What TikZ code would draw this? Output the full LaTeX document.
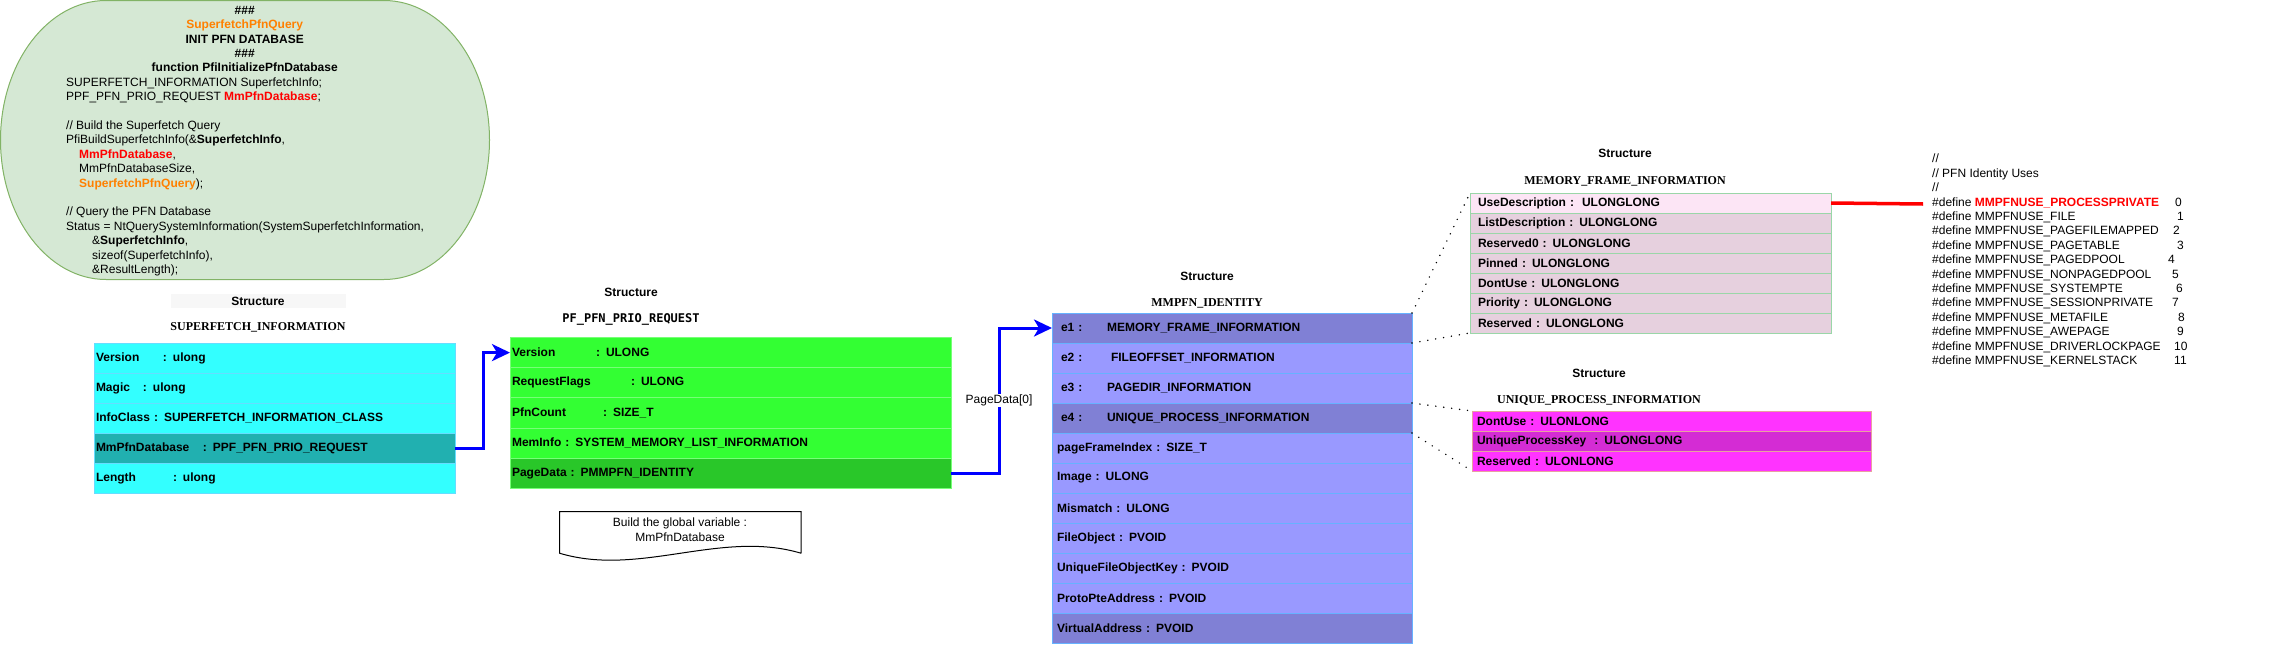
\documentclass[tikz,border=0pt]{standalone}
\usepackage{fontspec}
\setmainfont{Liberation Sans}
\newfontfamily\structfont{Liberation Serif}
\newfontfamily\monofont{DejaVu Sans Mono}
\usetikzlibrary{positioning}
\usetikzlibrary{arrows.meta}

\definecolor{qfill}{HTML}{D5E8D4}
\definecolor{qline}{HTML}{82B366}
\definecolor{qorange}{HTML}{FF8000}
\definecolor{sfifill}{HTML}{33FFFF}
\definecolor{sfidark}{HTML}{21B0B0}
\definecolor{sfiline}{HTML}{66DDFF}
\definecolor{pfrfill}{HTML}{33FF33}
\definecolor{pfrdark}{HTML}{29C729}
\definecolor{pfrline}{HTML}{77FF77}
\definecolor{mmifill}{HTML}{9999FF}
\definecolor{mmidark}{HTML}{8080D5}
\definecolor{mmiline}{HTML}{66B2FF}
\definecolor{mfifirst}{HTML}{FCE5F5}
\definecolor{mfifill}{HTML}{E6D0DE}
\definecolor{mfiline}{HTML}{9AD6A8}
\definecolor{upifill}{HTML}{FF33FF}
\definecolor{upidark}{HTML}{D42CD4}
\definecolor{upiline}{HTML}{E8A0A0}

\newcommand{\colname}[2]{\makebox[#1][l]{#2}}
\newcommand{\midline}[1]{\makebox[357pt]{#1}}

\begin{document}
\begin{tikzpicture}
	[	x=1pt, y=-1pt,
		title/.style={inner sep=0pt,font=\bfseries\fontsize{12}{14.4}\selectfont},
		sname/.style={inner sep=0pt,font=\structfont\bfseries\fontsize{12}{14.4}\selectfont},
		codetext/.style={inner sep=0pt,align=left,font=\fontsize{12}{14.4}\selectfont},
		field/.style={rectangle,anchor=north,inner ysep=0pt,outer sep=0pt,align=left,line width=1pt,font=\bfseries\fontsize{12}{14.4}\selectfont},
		sfirow/.style={field,draw=sfiline,fill=sfifill,minimum height=30pt,text width=357pt,inner xsep=2pt},
		pfrrow/.style={field,draw=pfrline,fill=pfrfill,minimum height=30.2pt,text width=437pt,inner xsep=2pt},
		mmirow/.style={field,draw=mmiline,fill=mmifill,minimum height=30pt,text width=350pt,inner xsep=5pt},
		mfirow/.style={field,draw=mfiline,fill=mfifill,minimum height=20pt,text width=345pt,inner xsep=8pt},
		upirow/.style={field,draw=upiline,fill=upifill,minimum height=20pt,text width=389pt,inner xsep=5pt},
		link/.style={-{Stealth[length=18pt,width=17pt,inset=5pt]},line width=3pt,draw=blue},
		dotline/.style={line width=1.6pt,line cap=round,dash pattern=on 0pt off 8pt},
		redline/.style={line width=3.5pt,draw=red}	]
	\useasboundingbox (0,0) rectangle (2290,645);

	% query shape
	\draw[draw=qline,fill=qfill,line width=1pt] (106,0.5) -- (384,0.5)
		arc[start angle=90,end angle=-90,x radius=105.5pt,y radius=139.5pt] -- (106,279.5)
		arc[start angle=270,end angle=90,x radius=105.5pt,y radius=139.5pt] -- cycle;
	\node[codetext,anchor=north west] (qtext) at (66,6) {%
		\midline{\textbf{\#\#\#}}\\
		\midline{\textcolor{qorange}{\textbf{SuperfetchPfnQuery}}}\\
		\midline{\textbf{INIT PFN DATABASE}}\\
		\midline{\textbf{\#\#\#}}\\
		\midline{\textbf{function PfiInitializePfnDatabase}}\\
		SUPERFETCH\_INFORMATION SuperfetchInfo;\\
		PPF\_PFN\_PRIO\_REQUEST \textcolor{red}{\textbf{MmPfnDatabase}};\\[14.4pt]
		// Build the Superfetch Query\\
		PfiBuildSuperfetchInfo(\&\textbf{SuperfetchInfo},\\
		\hspace*{13pt}\textcolor{red}{\textbf{MmPfnDatabase}},\\
		\hspace*{13pt}MmPfnDatabaseSize,\\
		\hspace*{13pt}\textcolor{qorange}{\textbf{SuperfetchPfnQuery}});\\[14.4pt]
		// Query the PFN Database\\
		Status = NtQuerySystemInformation(SystemSuperfetchInformation,\\
		\hspace*{26pt}\&\textbf{SuperfetchInfo},\\
		\hspace*{26pt}sizeof(SuperfetchInfo),\\
		\hspace*{26pt}\&ResultLength);};

	% SUPERFETCH_INFORMATION
	\node[title,fill=black!3,minimum width=175pt,minimum height=14pt] (sfiT) at (258,301) {Structure};
	\node[sname] (sfiN) at (258,327) {SUPERFETCH\_INFORMATION};
	\node[sfirow] (sfi1) at (274.5,343) {\colname{67pt}{Version}: ulong};
	\node[sfirow] (sfi2) [below = 0pt of sfi1] {\colname{47pt}{Magic}: ulong};
	\node[sfirow] (sfi3) [below = 0pt of sfi2] {InfoClass : SUPERFETCH\_INFORMATION\_CLASS};
	\node[sfirow,fill=sfidark] (sfi4) [below = 0pt of sfi3] {\colname{107pt}{MmPfnDatabase}: PPF\_PFN\_PRIO\_REQUEST};
	\node[sfirow] (sfi5) [below = 0pt of sfi4] {\colname{77pt}{Length}: ulong};

	% PF_PFN_PRIO_REQUEST
	\node[title] (pfrT) at (631,292) {Structure};
	\node[inner sep=0pt,font=\monofont\bfseries\fontsize{12}{14}\selectfont] (pfrN) at (631,319) {PF\_PFN\_PRIO\_REQUEST};
	\node[pfrrow] (pfr1) at (730.5,337.5) {\colname{84pt}{Version}: ULONG};
	\node[pfrrow] (pfr2) [below = 0pt of pfr1] {\colname{119pt}{RequestFlags}: ULONG};
	\node[pfrrow] (pfr3) [below = 0pt of pfr2] {\colname{91pt}{PfnCount}: SIZE\_T};
	\node[pfrrow] (pfr4) [below = 0pt of pfr3] {MemInfo : SYSTEM\_MEMORY\_LIST\_INFORMATION};
	\node[pfrrow,fill=pfrdark] (pfr5) [below = 0pt of pfr4] {PageData : PMMPFN\_IDENTITY};

	% note under the request
	\node[minimum width=241pt,minimum height=41.3pt,inner sep=0pt] (gvbox) at (680.4,532.4) {};
	\draw[line width=1pt] (gvbox.south east) -- (gvbox.north east) -- (gvbox.north west) -- (gvbox.south west)
		.. controls +(80,24) and +(-80,-24) .. (gvbox.south east);
	\node[inner sep=0pt,align=center,font=\fontsize{12}{15}\selectfont] (gvtext) at (680,529.5) {Build the global variable :\\MmPfnDatabase};

	% MMPFN_IDENTITY
	\node[title] (mmiT) at (1207,276) {Structure};
	\node[sname] (mmiN) at (1207,303) {MMPFN\_IDENTITY};
	\node[mmirow,fill=mmidark] (mmi1) at (1232,313) {\hspace*{4pt}\colname{46pt}{e1 :}MEMORY\_FRAME\_INFORMATION};
	\node[mmirow] (mmi2) [below = 0pt of mmi1] {\hspace*{4pt}\colname{50pt}{e2 :}FILEOFFSET\_INFORMATION};
	\node[mmirow] (mmi3) [below = 0pt of mmi2] {\hspace*{4pt}\colname{46pt}{e3 :}PAGEDIR\_INFORMATION};
	\node[mmirow,fill=mmidark] (mmi4) [below = 0pt of mmi3] {\hspace*{4pt}\colname{46pt}{e4 :}UNIQUE\_PROCESS\_INFORMATION};
	\node[mmirow] (mmi5) [below = 0pt of mmi4] {pageFrameIndex : SIZE\_T};
	\node[mmirow] (mmi6) [below = 0pt of mmi5] {Image : ULONG};
	\node[mmirow] (mmi7) [below = 0pt of mmi6] {Mismatch : ULONG};
	\node[mmirow] (mmi8) [below = 0pt of mmi7] {FileObject : PVOID};
	\node[mmirow] (mmi9) [below = 0pt of mmi8] {UniqueFileObjectKey : PVOID};
	\node[mmirow] (mmi10) [below = 0pt of mmi9] {ProtoPteAddress : PVOID};
	\node[mmirow,fill=mmidark] (mmi11) [below = 0pt of mmi10] {VirtualAddress : PVOID};

	% MEMORY_FRAME_INFORMATION
	\node[title] (mfiT) at (1625,153) {Structure};
	\node[sname] (mfiN) at (1625,181) {MEMORY\_FRAME\_INFORMATION};
	\node[mfirow,fill=mfifirst] (mfi1) at (1650.5,193) {UseDescription :\ \ ULONGLONG};
	\node[mfirow] (mfi2) [below = 0pt of mfi1] {ListDescription : ULONGLONG};
	\node[mfirow] (mfi3) [below = 0pt of mfi2] {Reserved0 : ULONGLONG};
	\node[mfirow] (mfi4) [below = 0pt of mfi3] {Pinned : ULONGLONG};
	\node[mfirow] (mfi5) [below = 0pt of mfi4] {DontUse : ULONGLONG};
	\node[mfirow] (mfi6) [below = 0pt of mfi5] {Priority : ULONGLONG};
	\node[mfirow] (mfi7) [below = 0pt of mfi6] {Reserved : ULONGLONG};

	% UNIQUE_PROCESS_INFORMATION
	\node[title] (upiT) at (1599,373) {Structure};
	\node[sname] (upiN) at (1599,400) {UNIQUE\_PROCESS\_INFORMATION};
	\node[upirow] (upi1) at (1671.5,411) {DontUse : ULONLONG};
	\node[upirow,fill=upidark] (upi2) [below = 0pt of upi1] {UniqueProcessKey\ \ : ULONGLONG};
	\node[upirow] (upi3) [below = 0pt of upi2] {Reserved : ULONLONG};

	% PFN identity uses
	\node[codetext,anchor=north west] (defs) at (1932,154) {%
		//\\
		// PFN Identity Uses\\
		//\\
		\colname{243pt}{\#define \textcolor{red}{\textbf{MMPFNUSE\_PROCESSPRIVATE}}}0\\
		\colname{245pt}{\#define MMPFNUSE\_FILE}1\\
		\colname{241pt}{\#define MMPFNUSE\_PAGEFILEMAPPED}2\\
		\colname{245pt}{\#define MMPFNUSE\_PAGETABLE}3\\
		\colname{236pt}{\#define MMPFNUSE\_PAGEDPOOL}4\\
		\colname{240pt}{\#define MMPFNUSE\_NONPAGEDPOOL}5\\
		\colname{244pt}{\#define MMPFNUSE\_SYSTEMPTE}6\\
		\colname{240pt}{\#define MMPFNUSE\_SESSIONPRIVATE}7\\
		\colname{246pt}{\#define MMPFNUSE\_METAFILE}8\\
		\colname{245pt}{\#define MMPFNUSE\_AWEPAGE}9\\
		\colname{242pt}{\#define MMPFNUSE\_DRIVERLOCKPAGE}10\\
		\colname{242pt}{\#define MMPFNUSE\_KERNELSTACK}11};
	\coordinate (pvtuse) at (1923,204);

	% connectors
	\draw[link] (sfi4.east) -- ++(28,0) |- (pfr1.west);
	\draw[link] (pfr5.east) -- ++(48,0) |- node[pos=0.25,fill=white,inner sep=1pt,font=\fontsize{12}{14}\selectfont] (pglabel) {PageData[0]} (mmi1.west);
	\draw[dotline] (mmi1.north east) -- (mfi1.north west);
	\draw[dotline] (mmi1.south east) -- (mfi7.south west);
	\draw[dotline] (mmi4.north east) -- (upi1.north west);
	\draw[dotline] (mmi4.south east) -- (upi3.south west);
	\draw[redline] (mfi1.east) -- (pvtuse);
\end{tikzpicture}
\end{document}
